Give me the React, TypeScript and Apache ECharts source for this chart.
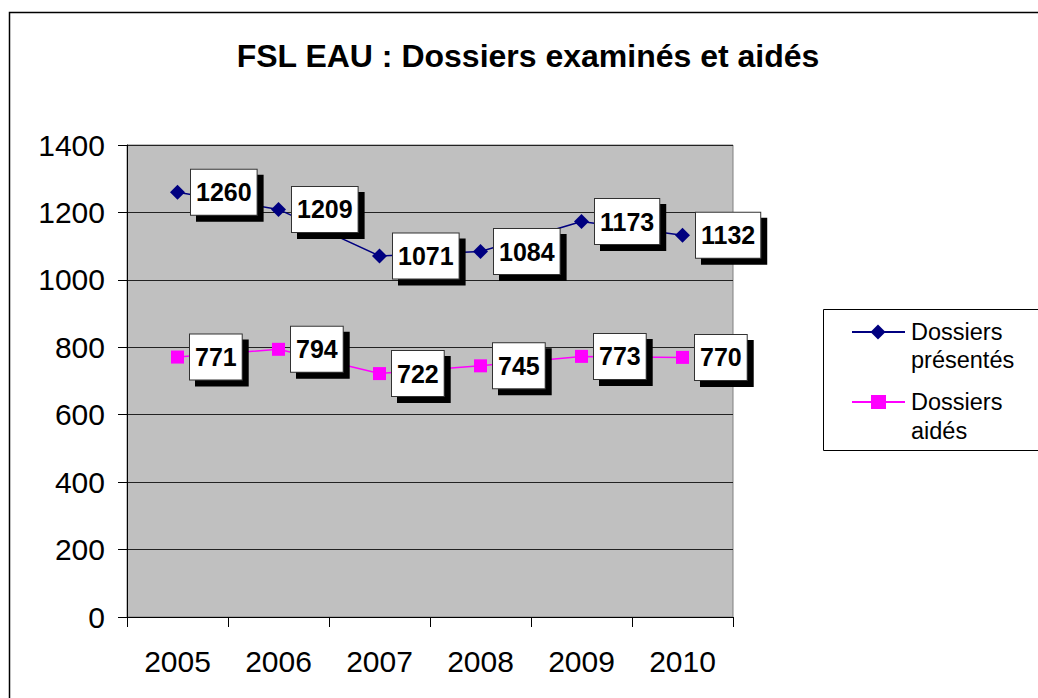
import React, { useEffect, useRef } from "react";
import * as echarts from "echarts";

const years = ["2005", "2006", "2007", "2008", "2009", "2010"];
const presentes = [1260, 1209, 1071, 1084, 1173, 1132];
const aides = [771, 794, 722, 745, 773, 770];
const titleText = "FSL EAU : Dossiers examinés et aidés";
const legendNames = ["Dossiers présentés", "Dossiers aidés"];

const FONT = "'Liberation Sans', Arial, sans-serif";

export default function App() {
  const ref = useRef<HTMLDivElement>(null);
  useEffect(() => {
    if (!ref.current) return;
    const chart = echarts.init(ref.current, null, { renderer: "svg" });
    const labelStyle = {
      show: true,
      position: "right",
      distance: 6,
      color: "#000",
      fontFamily: FONT,
      fontSize: 25,
      fontWeight: "bold",
      backgroundColor: "#fff",
      borderColor: "#333",
      borderWidth: 1,
      padding: [10, 5, 10, 5],
      shadowColor: "#000",
      shadowOffsetX: 6,
      shadowOffsetY: 6,
      shadowBlur: 0,
    };
    const legendText = (t: string, y: number) => ({
      type: "text",
      x: 911,
      y,
      style: { text: t, font: `23.5px ${FONT}`, fill: "#000", verticalAlign: "middle" },
    });
    chart.setOption({
      animation: false,
      backgroundColor: "#fff",
      title: {
        text: titleText,
        left: 528,
        top: 40,
        padding: 0,
        textAlign: "center",
        textStyle: { fontFamily: FONT, fontSize: 32, fontWeight: "bold", color: "#000" },
      },
      grid: {
        left: 127,
        top: 145,
        right: 305,
        bottom: 81,
        show: true,
        backgroundColor: "#c0c0c0",
        borderColor: "#808080",
        borderWidth: 1,
      },
      xAxis: {
        type: "category",
        data: years,
        boundaryGap: true,
        axisLine: { show: true, lineStyle: { color: "#000", width: 1 } },
        axisTick: { show: true, length: 10, lineStyle: { color: "#000" } },
        axisLabel: { fontFamily: FONT, fontSize: 30, color: "#000", margin: 29 },
        splitLine: { show: false },
      },
      yAxis: {
        type: "value",
        min: 0,
        max: 1400,
        interval: 200,
        axisLine: { show: true, lineStyle: { color: "#000", width: 1 } },
        axisTick: { show: true, length: 9, lineStyle: { color: "#000" } },
        axisLabel: {
          fontFamily: FONT,
          fontSize: 30,
          color: "#000",
          margin: 22,
          formatter: (v: number) => String(v),
        },
        splitLine: { show: true, lineStyle: { color: "#222", width: 1 } },
      },
      series: [
        {
          name: legendNames[0],
          type: "line",
          data: presentes,
          symbol: "diamond",
          symbolSize: 15,
          itemStyle: { color: "#000080" },
          lineStyle: { color: "#000080", width: 1.5 },
          label: labelStyle,
          z: 3,
        },
        {
          name: legendNames[1],
          type: "line",
          data: aides,
          symbol: "rect",
          symbolSize: 13,
          itemStyle: { color: "#ff00ff" },
          lineStyle: { color: "#ff00ff", width: 1.5 },
          label: labelStyle,
          z: 3,
        },
      ],
      graphic: [
        {
          type: "polyline",
          shape: { points: [[9.5, 760], [9.5, 12.5], [1060, 12.5]] },
          style: { fill: "none", stroke: "#000", lineWidth: 1.5 },
          silent: true,
          z: 100,
        },
        {
          type: "group",
          children: [
            {
              type: "rect",
              shape: { x: 823.5, y: 309.5, width: 240, height: 141 },
              style: { fill: "#fff" },
            },
            {
              type: "polyline",
              shape: { points: [[1060, 309.5], [823.5, 309.5], [823.5, 450.5], [1060, 450.5]] },
              style: { fill: "none", stroke: "#000", lineWidth: 1 },
            },
            {
              type: "line",
              shape: { x1: 852, y1: 332, x2: 905, y2: 332 },
              style: { stroke: "#000080", lineWidth: 2 },
            },
            {
              type: "polygon",
              shape: { points: [[878, 324.5], [885.5, 332], [878, 339.5], [870.5, 332]] },
              style: { fill: "#000080" },
            },
            legendText("Dossiers", 332),
            legendText("présentés", 360),
            {
              type: "line",
              shape: { x1: 852, y1: 402, x2: 905, y2: 402 },
              style: { stroke: "#ff00ff", lineWidth: 2 },
            },
            {
              type: "rect",
              shape: { x: 871, y: 395, width: 15, height: 14 },
              style: { fill: "#ff00ff" },
            },
            legendText("Dossiers", 402),
            legendText("aidés", 431),
          ],
        },
      ],
    });
    return () => chart.dispose();
  }, []);
  return (
    <div
      ref={ref}
      style={{ position: "fixed", left: 0, top: 0, width: 1038, height: 698 }}
    />
  );
}
